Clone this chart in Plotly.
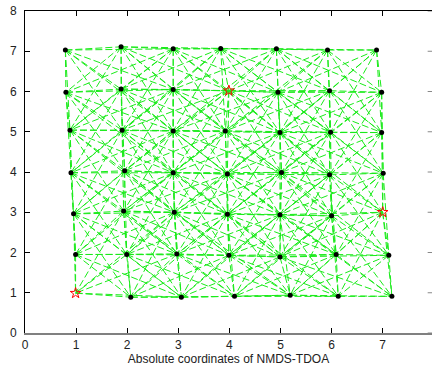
import plotly.graph_objects as go

# Estimated node positions, rows from y≈7 (top) to y≈1 (bottom), columns left->right
row_x = [
    [0.79, 1.88, 2.90, 3.83, 4.92, 5.92, 6.88],
    [0.80, 1.88, 2.90, 3.99, 4.95, 5.96, 6.98],
    [0.88, 1.90, 2.90, 3.92, 4.99, 5.98, 6.98],
    [0.90, 1.95, 2.90, 3.96, 5.02, 5.96, 7.01],
    [0.95, 1.93, 2.92, 3.96, 4.99, 6.00, 7.00],
    [0.99, 1.99, 2.97, 3.99, 4.99, 6.09, 7.12],
    [0.99, 2.07, 3.06, 4.10, 5.19, 6.13, 7.18],
]
row_y = [
    [7.03, 7.11, 7.06, 7.07, 7.06, 7.03, 7.03],
    [5.98, 6.06, 6.05, 6.02, 5.98, 6.02, 5.98],
    [5.04, 5.04, 5.02, 5.02, 4.98, 4.99, 4.98],
    [3.98, 4.03, 3.98, 3.95, 3.99, 3.93, 3.97],
    [2.96, 3.03, 3.00, 2.95, 2.94, 2.91, 3.00],
    [1.95, 1.95, 1.96, 1.93, 1.89, 1.95, 1.93],
    [0.99, 0.89, 0.89, 0.91, 0.94, 0.91, 0.91],
]
# anchor nodes (row, col)
anchors = [(6, 0), (1, 3), (4, 6)]
x_ticks = [0, 1, 2, 3, 4, 5, 6, 7]
y_ticks = [0, 1, 2, 3, 4, 5, 6, 7, 8]
x_label = "Absolute coordinates of NMDS-TDOA"

nodes = [(r, c) for r in range(7) for c in range(7)]
ex, ey = [], []
for a in range(len(nodes)):
    for b in range(a + 1, len(nodes)):
        r1, c1 = nodes[a]
        r2, c2 = nodes[b]
        if (r1 - r2) ** 2 + (c1 - c2) ** 2 <= 8:
            ex += [row_x[r1][c1], row_x[r2][c2], None]
            ey += [row_y[r1][c1], row_y[r2][c2], None]

fig = go.Figure()
fig.add_trace(go.Scatter(x=ex, y=ey, mode="lines",
                         line=dict(color="rgb(25,235,25)", width=1, dash="7px,3px"),
                         hoverinfo="skip"))
nx = [row_x[r][c] for r, c in nodes if (r, c) not in anchors]
ny = [row_y[r][c] for r, c in nodes if (r, c) not in anchors]
fig.add_trace(go.Scatter(x=nx, y=ny, mode="markers",
                         marker=dict(color="black", size=5)))
fig.add_trace(go.Scatter(x=[row_x[r][c] for r, c in anchors],
                         y=[row_y[r][c] for r, c in anchors], mode="markers",
                         marker=dict(symbol="star-open", color="red", size=8,
                                     line=dict(width=1, color="red"))))

# right-side ticks of the (cropped) right axis
for t in y_ticks:
    fig.add_shape(type="line", xref="x", yref="y", x0=7.88, x1=8.0, y0=t, y1=t,
                  line=dict(color="#888888", width=1))

font = dict(family="Liberation Sans, Arial", size=12, color="#222222")
fig.update_layout(
    width=432, height=369,
    margin=dict(l=24.5, r=0, t=11, b=36),
    paper_bgcolor="white", plot_bgcolor="white",
    showlegend=False, font=font,
    xaxis=dict(range=[0, 7.965], tickvals=x_ticks, ticks="inside", ticklen=5,
               tickcolor="black", showgrid=False, zeroline=False, showline=True,
               linecolor="#808080", linewidth=2, title=dict(text=x_label, standoff=3, font=font),
               ticklabelstandoff=0),
    xaxis2=dict(range=[0, 7.965], tickvals=x_ticks, ticks="inside", ticklen=5,
                tickcolor="black", showticklabels=False, showgrid=False,
                zeroline=False, showline=True, linecolor="black", linewidth=1,
                overlaying="x", side="top", matches="x"),
    yaxis=dict(range=[0, 8], tickvals=y_ticks, ticks="inside", ticklen=5,
               tickcolor="black", showgrid=False, zeroline=False, showline=True,
               linecolor="black", linewidth=1, ticklabelstandoff=5),
)
fig.add_trace(go.Scatter(x=[None], y=[None], xaxis="x2", showlegend=False))
fig.write_html("out.html")
